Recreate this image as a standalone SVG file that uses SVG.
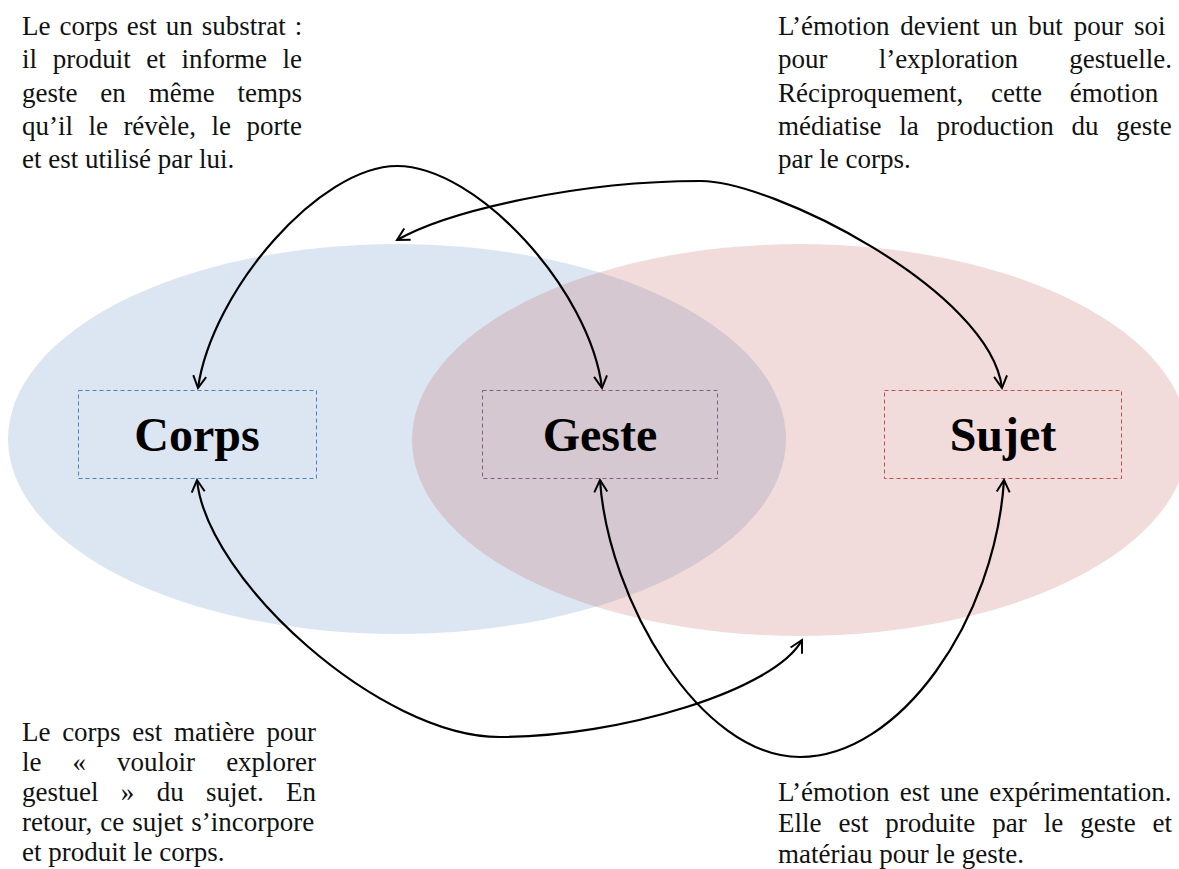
<svg xmlns="http://www.w3.org/2000/svg" width="1179" height="869" viewBox="0 0 1179 869">
  <defs>
    <marker id="ah" viewBox="-14 -8 16 16" refX="0" refY="0" markerWidth="16" markerHeight="16" markerUnits="userSpaceOnUse" orient="auto-start-reverse">
      <path d="M-12,-6.5 L0,0 L-12,6.5" fill="none" stroke="#000" stroke-width="2" stroke-linejoin="miter"/>
    </marker>
  </defs>
  <style>
    .para { font-family: "Liberation Serif", "Times New Roman", serif; font-size: 27px; fill: #111; }
    .label { font-family: "Liberation Serif", "Times New Roman", serif; font-size: 48px; font-weight: bold; fill: #000; text-anchor: middle; }
    .box { fill: none; stroke-width: 1; stroke-dasharray: 4 3; }
    .conn { fill: none; stroke: #000; stroke-width: 2.2; marker-start: url(#ah); marker-end: url(#ah); }
  </style>
  <rect x="0" y="0" width="1179" height="869" fill="#ffffff"/>

  <g id="ellipses">
    <ellipse id="ellipse-corps" cx="397" cy="439" rx="389" ry="195" fill="#4f81bd" fill-opacity="0.2"/>
    <ellipse id="ellipse-sujet" cx="800" cy="440" rx="388" ry="196" fill="#c0504d" fill-opacity="0.2"/>
  </g>

  <g id="node-corps">
    <rect class="box" x="78.5" y="390.5" width="238" height="88" stroke="#4f81bd"/>
    <text class="label" x="197" y="451">Corps</text>
  </g>
  <g id="node-geste">
    <rect class="box" x="482.5" y="390.5" width="235" height="88" stroke="#7f6084"/>
    <text class="label" x="600" y="451">Geste</text>
  </g>
  <g id="node-sujet">
    <rect class="box" x="884.5" y="390.5" width="237" height="88" stroke="#c0504d"/>
    <text class="label" x="1003" y="451">Sujet</text>
  </g>

  <g id="connectors">
    <path class="conn" d="M198,388 C212,290 320,166 397,166 C477,166 590,290 602,388"/>
    <path class="conn" d="M397,240 C450,210 580,181 700,181 C770,180 990,290 1002,388"/>
    <path class="conn" d="M197,480 C207,580 380,737 500,737 C620,737 775,690 802,640"/>
    <path class="conn" d="M600,480 C608,600 700,757 800,757 C900,757 995,620 1004,480"/>
  </g>

  <g id="text-top-left" class="para">
    <text x="22" y="35" word-spacing="2.2">Le corps est un substrat :</text>
    <text x="22" y="68.25" word-spacing="8.9">il produit et informe le</text>
    <text x="22" y="101.5" word-spacing="16.1">geste en même temps</text>
    <text x="22" y="134.75" word-spacing="8.7">qu’il le révèle, le porte</text>
    <text x="22" y="168">et est utilisé par lui.</text>
  </g>

  <g id="text-top-right" class="para">
    <text x="778" y="35" word-spacing="4.05">L’émotion devient un but pour soi</text>
    <text x="778" y="68.25" word-spacing="44.4">pour l’exploration gestuelle.</text>
    <text x="778" y="101.5" word-spacing="21.1">Réciproquement, cette émotion</text>
    <text x="778" y="134.75" word-spacing="11.1">médiatise la production du geste</text>
    <text x="778" y="168">par le corps.</text>
  </g>

  <g id="text-bottom-left" class="para">
    <text x="22" y="741" word-spacing="4.9">Le corps est matière pour</text>
    <text x="22" y="771" word-spacing="24.3">le « vouloir explorer</text>
    <text x="22" y="801" word-spacing="15.6">gestuel » du sujet. En</text>
    <text x="22" y="831" word-spacing="1.3">retour, ce sujet s’incorpore</text>
    <text x="22" y="861">et produit le corps.</text>
  </g>

  <g id="text-bottom-right" class="para">
    <text x="778" y="801" word-spacing="3.5">L’émotion est une expérimentation.</text>
    <text x="778" y="832" word-spacing="10.2">Elle est produite par le geste et</text>
    <text x="778" y="863">matériau pour le geste.</text>
  </g>
</svg>
